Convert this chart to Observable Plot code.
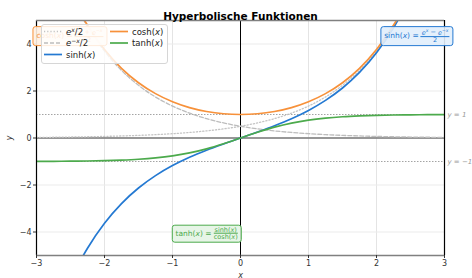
<!DOCTYPE html>
<html><head><meta charset="utf-8">
<script src="https://cdn.jsdelivr.net/npm/d3@7"></script>
<script src="https://cdn.jsdelivr.net/npm/@observablehq/plot@0.6"></script>
<style>
body{margin:0;background:#fff;font-family:"DejaVu Sans",sans-serif;}
#wrap{position:relative;width:472px;height:278px;overflow:hidden;}
.box{position:absolute;transform:translate(-50%,-50%);border-radius:3px;padding:1px 3px;font-size:7.5px;display:flex;align-items:center;white-space:nowrap;line-height:1.05;}
.frac{display:inline-flex;flex-direction:column;align-items:center;font-size:6.5px;margin-left:2px;}
.frac .n{border-bottom:0.8px solid currentColor;padding:0 1px;}
.legend{position:absolute;}
svg [aria-label="x-axis label"] text, svg [aria-label="y-axis label"] text{font-style:italic;}
</style></head><body><div id="wrap"></div>
<script>
const title = "Hyperbolische Funktionen";
const xVals = [-3,-2.75,-2.5,-2.25,-2,-1.75,-1.5,-1.25,-1,-0.75,-0.5,-0.25,0,0.25,0.5,0.75,1,1.25,1.5,1.75,2,2.25,2.5,2.75,3];
const sinhVals = [-10.018,-7.790,-6.050,-4.691,-3.627,-2.790,-2.129,-1.602,-1.175,-0.822,-0.521,-0.253,0,0.253,0.521,0.822,1.175,1.602,2.129,2.790,3.627,4.691,6.050,7.790,10.018];
const coshVals = [10.068,7.853,6.132,4.797,3.762,2.964,2.352,1.888,1.543,1.295,1.128,1.031,1,1.031,1.128,1.295,1.543,1.888,2.352,2.964,3.762,4.797,6.132,7.853,10.068];
const tanhVals = [-0.995,-0.992,-0.987,-0.978,-0.964,-0.941,-0.905,-0.848,-0.762,-0.635,-0.462,-0.245,0,0.245,0.462,0.635,0.762,0.848,0.905,0.941,0.964,0.978,0.987,0.992,0.995];
const expPosVals = [0.025,0.032,0.041,0.053,0.068,0.087,0.112,0.143,0.184,0.236,0.303,0.389,0.5,0.642,0.824,1.059,1.359,1.745,2.241,2.877,3.695,4.744,6.091,7.821,10.043];
const expNegVals = [10.043,7.821,6.091,4.744,3.695,2.877,2.241,1.745,1.359,1.059,0.824,0.642,0.5,0.389,0.303,0.236,0.184,0.143,0.112,0.087,0.068,0.053,0.041,0.032,0.025];
const xTicks = [-3,-2,-1,0,1,2,3];
const yTicks = [-4,-2,0,2,4];
const asymptotes = [1,-1];
const asymptoteLabels = ["y = 1","y = −1"];

const C = {sinh:"#2479d2", cosh:"#f7913a", tanh:"#4caa4c", ep:"#c4c4c4", en:"#bdbdbd"};
const series = [
  {key:"ep", vals:expPosVals, stroke:C.ep, dash:"1.2,2", w:1.3},
  {key:"en", vals:expNegVals, stroke:C.en, dash:"4,2", w:1.3},
  {key:"sinh", vals:sinhVals, stroke:C.sinh, dash:null, w:1.7},
  {key:"cosh", vals:coshVals, stroke:C.cosh, dash:null, w:1.7},
  {key:"tanh", vals:tanhVals, stroke:C.tanh, dash:null, w:1.7}
];
const rows = s => xVals.map((x,i)=>({x, y:s.vals[i]}));

const plot = Plot.plot({
  width:472, height:278,
  marginLeft:36, marginRight:28, marginTop:20, marginBottom:23,
  style:{fontFamily:"DejaVu Sans, sans-serif", fontSize:"8px", color:"#333", background:"#fff"},
  x:{domain:[-3,3]},
  y:{domain:[-5,5]},
  marks:[
    Plot.gridX(xTicks, {stroke:"#ddd", strokeOpacity:1, strokeWidth:0.8}),
    Plot.gridY(yTicks, {stroke:"#ebebeb", strokeOpacity:1, strokeWidth:1}),
    Plot.ruleY(asymptotes, {stroke:"#9a9a9a", strokeDasharray:"1.5,1.5", strokeWidth:0.9}),
    Plot.ruleY([0], {stroke:"#777", strokeWidth:1.6}),
    Plot.ruleX([0], {stroke:"#000", strokeWidth:1}),
    ...series.map(s => Plot.line(rows(s), {x:"x", y:"y", stroke:s.stroke, strokeWidth:s.w, strokeDasharray:s.dash, curve:"catmull-rom", clip:true})),
    Plot.ruleX([-3,3], {stroke:"#000", strokeWidth:1.2}),
    Plot.ruleY([-5,5], {stroke:"#808080", strokeWidth:1.6}),
    Plot.text(asymptotes.map((v,i)=>({y:v, t:asymptoteLabels[i]})), {x:()=>3, y:"y", text:"t", dx:3, textAnchor:"start", fill:"#999", fontSize:7, fontStyle:"italic"}),
    Plot.axisX(xTicks, {tickSize:3, tickPadding:2, fontSize:8, label:"x", labelAnchor:"center", labelArrow:"none", labelOffset:22, tickFormat:d=>String(d).replace("-","−")}),
    Plot.axisY(yTicks, {tickSize:3, tickPadding:2, fontSize:8, label:"y", labelAnchor:"center", labelArrow:"none", labelOffset:30, tickFormat:d=>String(d).replace("-","−")}),
    Plot.text([title], {frameAnchor:"top", dy:-8, fontWeight:"bold", fontSize:10.5, fill:"#000"})
  ]
});
const wrap = document.getElementById("wrap");
wrap.appendChild(plot);
const sx = plot.scale("x"), sy = plot.scale("y");

function addBox(x, y, color, fill, html){
  const d = document.createElement("div");
  d.className = "box";
  d.style.left = sx.apply(x)+"px";
  d.style.top = sy.apply(y)+"px";
  d.style.color = color;
  d.style.border = "1px solid "+color;
  d.style.background = fill;
  d.innerHTML = html;
  wrap.appendChild(d);
}
addBox(-2.5, 4.3, C.cosh, "rgba(255,240,225,0.9)",
  `cosh(<i>x</i>) = <span class="frac"><span class="n"><i>e<sup style="font-size:4.5px">x</sup></i> + <i>e<sup style="font-size:4.5px">−x</sup></i></span><span>2</span></span>`);
addBox(2.6, 4.3, C.sinh, "rgba(225,238,252,0.9)",
  `sinh(<i>x</i>) = <span class="frac"><span class="n"><i>e<sup style="font-size:4.5px">x</sup></i> − <i>e<sup style="font-size:4.5px">−x</sup></i></span><span>2</span></span>`);
addBox(-0.49, -4.09, C.tanh, "rgba(228,244,228,0.9)",
  `tanh(<i>x</i>) = <span class="frac"><span class="n">sinh(<i>x</i>)</span><span>cosh(<i>x</i>)</span></span>`);

// legend
const leg = document.createElement("div");
leg.className = "legend";
leg.style.left = "41px"; leg.style.top = "24px";
const items = [
  {s:series[0], col:0, row:0, label:`<tspan font-style="italic">e</tspan><tspan font-style="italic" font-size="6" dy="-3">x</tspan><tspan dy="3">/2</tspan>`},
  {s:series[1], col:0, row:1, label:`<tspan font-style="italic">e</tspan><tspan font-size="6" dy="-3">−</tspan><tspan font-style="italic" font-size="6">x</tspan><tspan dy="3">/2</tspan>`},
  {s:series[2], col:0, row:2, label:`sinh(<tspan font-style="italic">x</tspan>)`},
  {s:series[3], col:1, row:0, label:`cosh(<tspan font-style="italic">x</tspan>)`},
  {s:series[4], col:1, row:1, label:`tanh(<tspan font-style="italic">x</tspan>)`}
];
let svg = `<svg width="127" height="40" xmlns="http://www.w3.org/2000/svg" style="display:block;font-family:'DejaVu Sans',sans-serif">
<rect x="0.5" y="0.5" width="126" height="39" rx="2.5" fill="rgba(255,255,255,0.82)" stroke="#d6d6d6"/>`;
for (const it of items){
  const x0 = it.col ? 69 : 3, yy = 7.5 + it.row*11.5;
  svg += `<line x1="${x0}" x2="${x0+18}" y1="${yy}" y2="${yy}" stroke="${it.s.stroke}" stroke-width="${it.s.w}" ${it.s.dash?`stroke-dasharray="${it.s.dash}"`:""}/>`;
  svg += `<text x="${x0+22}" y="${yy+3}" font-size="8.5" fill="#222">${it.label}</text>`;
}
svg += `</svg>`;
leg.innerHTML = svg;
wrap.appendChild(leg);
</script></body></html>
